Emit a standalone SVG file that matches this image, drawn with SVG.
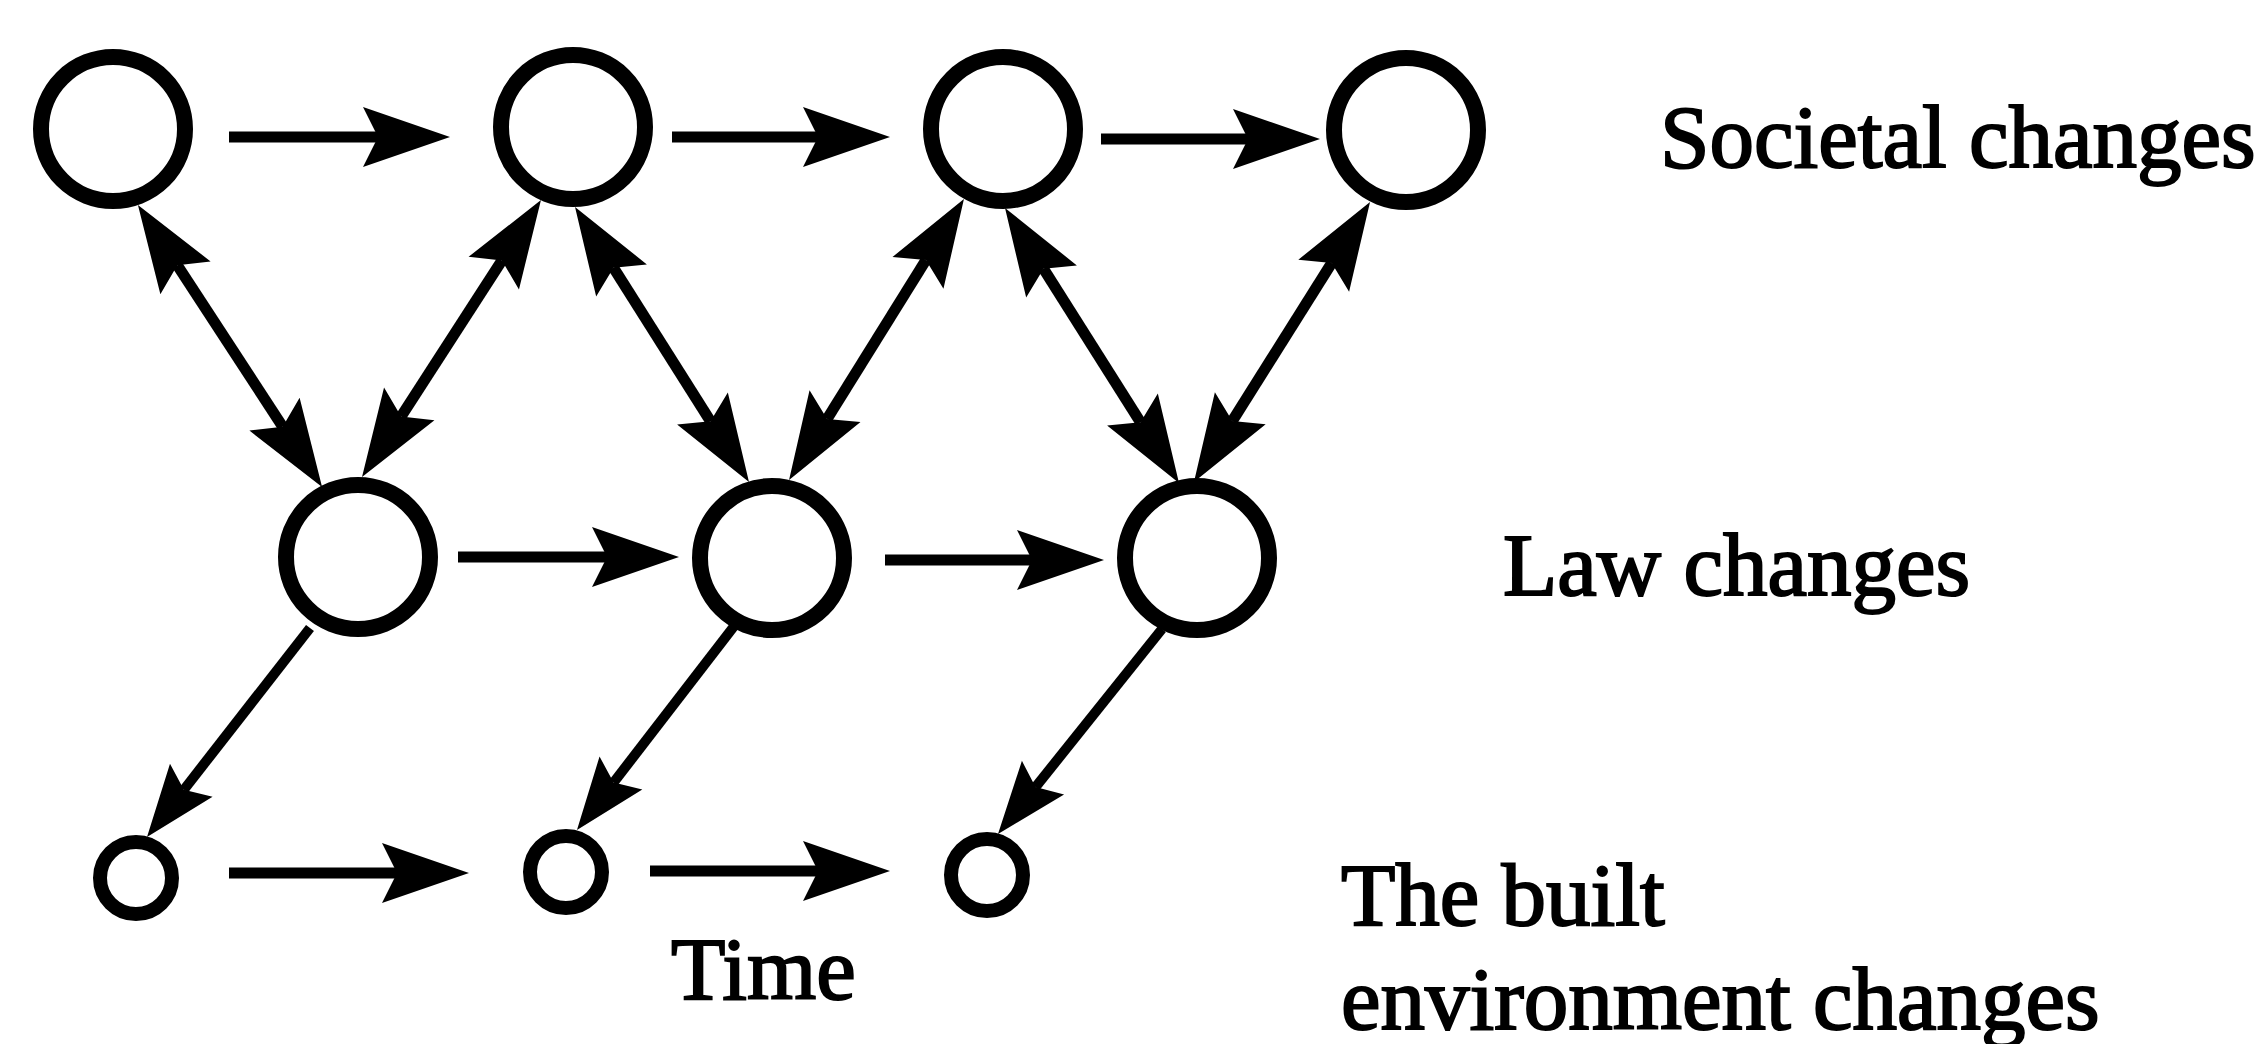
<svg xmlns="http://www.w3.org/2000/svg" width="2265" height="1044" viewBox="0 0 2265 1044">
  <style>
    .node { fill: none; stroke: #000; stroke-width: 16; }
    .small { fill: none; stroke: #000; stroke-width: 14; }
    .edge { fill: none; stroke: #000; stroke-width: 11; stroke-linecap: butt; }
    .thin { stroke-width: 10; }
    .label { font-family: "Liberation Serif", "Times New Roman", serif; font-size: 89px; fill: #000; stroke: #000; stroke-width: 2; }
  </style>
  <defs>
    <!-- barbed arrowhead; reference point sits at the notch where the shaft ends -->
    <marker id="head" viewBox="-16 -31 90 62" refX="0" refY="0" markerWidth="90" markerHeight="62" markerUnits="userSpaceOnUse" orient="auto-start-reverse">
      <path d="M72,0 L-15,-30 L0,0 L-15,30 Z" fill="#000"/>
    </marker>
    <marker id="headSmall" viewBox="-13 -28 75 56" refX="0" refY="0" markerWidth="75" markerHeight="56" markerUnits="userSpaceOnUse" orient="auto">
      <path d="M60,0 L-12,-27 L0,0 L-12,27 Z" fill="#000"/>
    </marker>
  </defs>
  <rect width="2265" height="1044" fill="#fff"/>

  <!-- societal changes row -->
  <g id="s1"><circle class="node" cx="113" cy="129" r="72"/></g>
  <g id="s2"><circle class="node" cx="573" cy="127" r="72"/></g>
  <g id="s3"><circle class="node" cx="1003" cy="129" r="72"/></g>
  <g id="s4"><circle class="node" cx="1406" cy="130" r="72"/></g>

  <!-- law changes row -->
  <g id="l1"><circle class="node" cx="358" cy="557" r="72"/></g>
  <g id="l2"><circle class="node" cx="772" cy="558" r="72"/></g>
  <g id="l3"><circle class="node" cx="1197" cy="558" r="72"/></g>

  <!-- built environment row -->
  <g id="b1"><circle class="small" cx="136" cy="878" r="36"/></g>
  <g id="b2"><circle class="small" cx="566" cy="872" r="36"/></g>
  <g id="b3"><circle class="small" cx="987" cy="875" r="36"/></g>

  <g id="connectors">
    <!-- time steps, societal row -->
    <line class="edge" x1="229" y1="137" x2="378" y2="137" marker-end="url(#head)"/>
    <line class="edge" x1="672" y1="137" x2="818" y2="137" marker-end="url(#head)"/>
    <line class="edge" x1="1101" y1="139" x2="1248" y2="139" marker-end="url(#head)"/>
    <!-- time steps, law row -->
    <line class="edge" x1="458" y1="557" x2="607" y2="557" marker-end="url(#head)"/>
    <line class="edge" x1="885" y1="560" x2="1032" y2="560" marker-end="url(#head)"/>
    <!-- time steps, built environment row -->
    <line class="edge" x1="229" y1="873" x2="397" y2="873" marker-end="url(#head)"/>
    <line class="edge" x1="650" y1="871" x2="818" y2="871" marker-end="url(#head)"/>
    <!-- two-way links between society and law -->
    <line class="edge" x1="177.3" y1="265.3" x2="282.7" y2="426.7" marker-start="url(#head)" marker-end="url(#head)"/>
    <line class="edge" x1="501.9" y1="260.5" x2="401.1" y2="416.5" marker-start="url(#head)" marker-end="url(#head)"/>
    <line class="edge" x1="613.5" y1="267.8" x2="710.5" y2="421.2" marker-start="url(#head)" marker-end="url(#head)"/>
    <line class="edge" x1="925.9" y1="260.1" x2="827.1" y2="418.9" marker-start="url(#head)" marker-end="url(#head)"/>
    <line class="edge" x1="1043.5" y1="268.8" x2="1140.5" y2="422.2" marker-start="url(#head)" marker-end="url(#head)"/>
    <line class="edge" x1="1331.7" y1="263" x2="1232.3" y2="421" marker-start="url(#head)" marker-end="url(#head)"/>
    <!-- law shaping the built environment -->
    <line class="edge thin" x1="310" y1="628" x2="183.9" y2="789.7" marker-end="url(#headSmall)"/>
    <line class="edge thin" x1="735" y1="625" x2="613.6" y2="782.5" marker-end="url(#headSmall)"/>
    <line class="edge thin" x1="1162" y1="629" x2="1035.5" y2="787.1" marker-end="url(#headSmall)"/>
  </g>

  <g id="labels">
    <text class="label" x="1660" y="167">Societal changes</text>
    <text class="label" x="1503" y="595">Law changes</text>
    <text class="label" x="1341" y="925">The built</text>
    <text class="label" x="1341" y="1029">environment changes</text>
    <text class="label" x="671" y="999">Time</text>
  </g>
</svg>
